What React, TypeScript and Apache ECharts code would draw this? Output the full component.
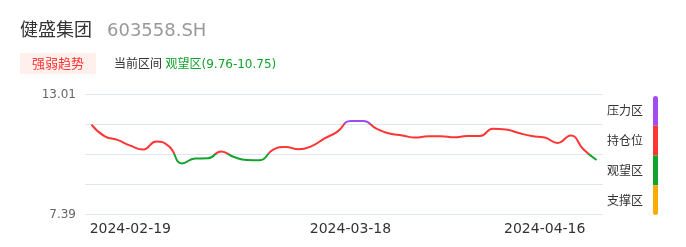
import React, { useEffect, useRef } from "react";
import * as echarts from "echarts";

const dates = [
  "2024-02-06", "2024-02-07", "2024-02-08", "2024-02-19", "2024-02-20",
  "2024-02-21", "2024-02-22", "2024-02-26", "2024-02-27", "2024-02-28",
  "2024-02-29", "2024-03-04", "2024-03-05", "2024-03-06", "2024-03-07",
  "2024-03-11", "2024-03-12", "2024-03-13", "2024-03-14", "2024-03-15",
  "2024-03-18", "2024-03-19", "2024-03-20", "2024-03-21", "2024-03-22",
  "2024-03-25", "2024-03-26", "2024-03-27", "2024-03-28", "2024-04-01",
  "2024-04-02", "2024-04-03", "2024-04-08", "2024-04-09", "2024-04-11",
  "2024-04-16", "2024-04-17", "2024-04-18", "2024-04-19", "2024-04-22",
];

const values = [
  11.58, 11.04, 10.86, 10.59, 10.41, 10.79, 10.55, 9.76, 9.99, 10.0,
  10.32, 10.06, 9.92, 9.91, 10.39, 10.53, 10.42, 10.57, 10.93, 11.25,
  11.75, 11.74, 11.39, 11.16, 11.07, 10.97, 11.03, 11.03, 10.98, 11.04,
  11.04, 11.38, 11.35, 11.18, 11.04, 10.97, 10.72, 11.07, 10.41, 9.92,
];

const shownDates = ["2024-02-19", "2024-03-18", "2024-04-16"];
const yMin = 7.39;
const yMax = 13.01;

const zoneLabels = ["压力区", "持仓位", "观望区", "支撑区"];
const zoneColors = ["#a14cf0", "#ff3434", "#11a32b", "#fcab00"];
const pressureLine = 11.6;
const watchLine = 10.2;

const stockName = "健盛集团";
const stockCode = "603558.SH";
const badgeText = "强弱趋势";
const rangeLabel = "当前区间";
const rangeValue = "观望区(9.76-10.75)";

const FONT = "'DejaVu Sans', 'Noto Sans CJK SC', sans-serif";

export default function App() {
  const ref = useRef<HTMLDivElement>(null);

  useEffect(() => {
    if (!ref.current) return;
    const chart = echarts.init(ref.current, null, { renderer: "svg" });

    const gridTop = 94;
    const gridBottom = 214;
    const barX = 653;
    const barTop = 96;
    const segH = (215 - barTop) / zoneLabels.length;

    const legendGraphics: any[] = [];
    zoneLabels.forEach((label, i) => {
      const y0 = barTop + i * segH;
      const r =
        i === 0 ? [2.5, 2.5, 0, 0] : i === zoneLabels.length - 1 ? [0, 0, 2.5, 2.5] : 0;
      legendGraphics.push({
        type: "rect",
        shape: { x: barX, y: y0, width: 5, height: segH, r },
        style: { fill: zoneColors[i] },
      });
      legendGraphics.push({
        type: "text",
        x: 607,
        y: y0 + segH / 2 + 0.5,
        style: {
          text: label,
          fill: "#333",
          fontSize: 12,
          fontFamily: FONT,
          align: "left",
          verticalAlign: "middle",
        },
      });
    });

    chart.setOption({
      animation: false,
      textStyle: { fontFamily: FONT },
      grid: {
        left: 85,
        right: 686 - 603,
        top: gridTop,
        bottom: 247 - gridBottom,
      },
      xAxis: {
        type: "category",
        data: dates,
        boundaryGap: true,
        axisLine: { show: false },
        axisTick: { show: false },
        splitLine: { show: false },
        axisLabel: {
          interval: (_i: number, v: string) => shownDates.includes(v),
          color: "#333",
          fontSize: 14,
          fontFamily: FONT,
          margin: 7,
        },
      },
      yAxis: [
        {
          type: "value",
          min: yMin,
          max: yMax,
          position: "left",
          axisLine: { show: false },
          axisTick: { show: false },
          splitLine: { show: false },
          axisLabel: {
            showMinLabel: true,
            showMaxLabel: true,
            color: "#666",
            fontSize: 12,
            fontFamily: FONT,
            margin: 9,
            formatter: (v: number) =>
              Math.abs(v - yMin) < 1e-6 || Math.abs(v - yMax) < 1e-6
                ? v.toFixed(2)
                : "",
          },
        },
        {
          type: "value",
          min: 0,
          max: 4,
          interval: 1,
          position: "right",
          axisLine: { show: false },
          axisTick: { show: false },
          axisLabel: { show: false },
          splitLine: { show: true, lineStyle: { color: "#e0e6f1", width: 1 } },
        },
      ],
      visualMap: {
        show: false,
        type: "piecewise",
        seriesIndex: 0,
        dimension: 1,
        pieces: [
          { gt: pressureLine, color: zoneColors[0] },
          { gt: watchLine, lte: pressureLine, color: zoneColors[1] },
          { lte: watchLine, color: zoneColors[2] },
        ],
      },
      series: [
        {
          type: "line",
          data: values,
          yAxisIndex: 0,
          smooth: true,
          showSymbol: false,
          symbol: "none",
          lineStyle: { width: 2 },
        },
      ],
      graphic: [
        {
          type: "text",
          x: 20,
          y: 29,
          style: {
            text: stockName,
            fill: "#333",
            fontSize: 18,
            fontFamily: FONT,
            verticalAlign: "middle",
          },
        },
        {
          type: "text",
          x: 107,
          y: 29,
          style: {
            text: stockCode,
            fill: "#999",
            fontSize: 18,
            fontFamily: FONT,
            verticalAlign: "middle",
          },
        },
        {
          type: "rect",
          shape: { x: 20, y: 53, width: 76, height: 21 },
          style: { fill: "#fff0ed" },
        },
        {
          type: "text",
          x: 58,
          y: 63.5,
          style: {
            text: badgeText,
            fill: "#ff3434",
            fontSize: 13,
            fontFamily: FONT,
            align: "center",
            verticalAlign: "middle",
          },
        },
        {
          type: "text",
          x: 114,
          y: 63.5,
          style: {
            text: rangeLabel,
            fill: "#333",
            fontSize: 12,
            fontFamily: FONT,
            verticalAlign: "middle",
          },
        },
        {
          type: "text",
          x: 165.5,
          y: 63.5,
          style: {
            text: rangeValue,
            fill: "#11a32b",
            fontSize: 12,
            fontFamily: FONT,
            verticalAlign: "middle",
          },
        },
        ...legendGraphics,
      ],
    });

    return () => chart.dispose();
  }, []);

  return (
    <div
      ref={ref}
      style={{ position: "fixed", left: 0, top: 0, width: 686, height: 247 }}
    />
  );
}
